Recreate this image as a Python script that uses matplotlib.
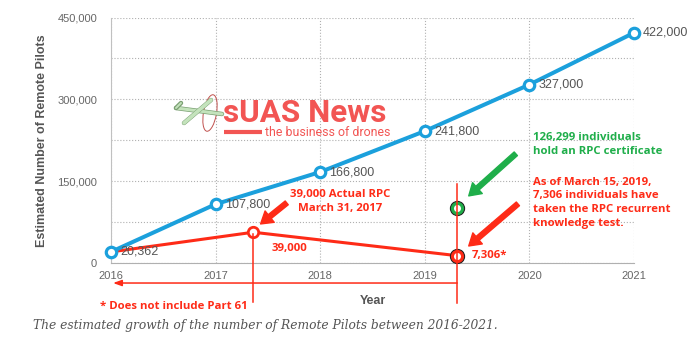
import numpy as np
from matplotlib import pyplot as plt
from matplotlib.patches import Ellipse
import matplotlib.patheffects as pe

# estimated remote pilots (blue line)
years = [2016, 2017, 2018, 2019, 2020, 2021]
pilots = [20362, 107800, 166800, 241800, 327000, 422000]
pilot_labels = ['20,362', '107,800', '166,800', '241,800', '327,000', '422,000']

# actual RPC counts (red line), positions as drawn in the picture
rpc_x = [2016, 2017.36, 2019.31]
rpc_y = [20362, 56400, 13400]
cert_x = 2019.31
cert_y = 101600

y_ticks = [0, 75000, 150000, 225000, 300000, 375000, 450000]
y_tick_labels = ['0', '', '150,000', '', '300,000', '', '450,000']

blue = '#1ba0dc'
red = '#fe2b17'
green = '#1fae4a'
grey = '#666666'

fig = plt.figure(figsize=(6.96, 3.49), dpi=100)
ax = fig.add_axes([111 / 696, 1 - 263 / 349, 523 / 696, 245.5 / 349])

ax.set_xlim(2016, 2021)
ax.set_ylim(0, 450000)
ax.set_xticks(years)
ax.set_xticklabels([str(y) for y in years])
ax.set_yticks(y_ticks)
ax.set_yticklabels(y_tick_labels)
ax.tick_params(length=0, labelsize=8, labelcolor=grey)
ax.tick_params(axis='y', pad=10)
ax.tick_params(axis='x', pad=6)
for lab in ax.get_xticklabels() + ax.get_yticklabels():
    lab.set_family('Liberation Sans')
ax.grid(True, linestyle=':', color='#b0b0b0', linewidth=0.8)
ax.spines['top'].set_visible(False)
ax.spines['right'].set_visible(False)
ax.spines['left'].set_color('#c0c0c0')
ax.spines['bottom'].set_color('#b0b0b0')

ax.set_xlabel('Year', family='Liberation Sans', fontweight='bold',
              fontsize=9, color='#555555', labelpad=10)
ax.set_ylabel('Estimated Number of Remote Pilots', family='Liberation Sans',
              fontweight='bold', fontsize=9, color='#555555', labelpad=7)

# red actual line
ax.plot(rpc_x, rpc_y, color=red, lw=2.2, zorder=3, clip_on=False)
ax.plot(rpc_x[1], rpc_y[1], 'o', ms=7.5, mfc='white', mec=red, mew=2, zorder=4)
ax.plot(rpc_x[2], rpc_y[2], 'o', ms=10, mfc='#222222', mec='#222222', mew=1, zorder=4)
ax.plot(rpc_x[2], rpc_y[2], 'o', ms=7.3, mfc='white', mec=red, mew=2.2, zorder=4)
ax.plot(cert_x, cert_y, 'o', ms=10, mfc='#222222', mec='#222222', mew=1, zorder=4)
ax.plot(cert_x, cert_y, 'o', ms=7.3, mfc='white', mec=green, mew=2.2, zorder=4)

# blue estimate line
ax.plot(years, pilots, color=blue, lw=2.9, zorder=5, clip_on=False)
ax.plot(years, pilots, 'o', ms=7.5, mfc='white', mec=blue, mew=2.3,
        zorder=6, clip_on=False)
for x, y, t in zip(years, pilots, pilot_labels):
    ax.annotate(t, (x, y), xytext=(6.5, 0), textcoords='offset points',
                va='center', ha='left', fontsize=9, color='#555555',
                family='Liberation Sans', zorder=7)

# red guide lines below the axis
ax.plot([cert_x, cert_x], [145000, -73500], color=red, lw=1.1,
        zorder=8, clip_on=False)
ax.plot([rpc_x[1], rpc_x[1]], [rpc_y[1] - 4000, -71600], color=red, lw=1.1,
        zorder=8, clip_on=False)
ax.annotate('', xy=(2016.02, -36700), xytext=(cert_x, -36700),
            arrowprops=dict(arrowstyle='-|>,head_width=0.18,head_length=0.5',
                            color=red, lw=1.1, shrinkA=0, shrinkB=0),
            annotation_clip=False)

# arrows
arrow_style = 'simple,head_width=0.75,head_length=0.6,tail_width=0.25'
ax.annotate('', xy=(2017.43, 71600), xytext=(2017.68, 110200),
            arrowprops=dict(arrowstyle=arrow_style, color=red,
                            mutation_scale=14, shrinkA=0, shrinkB=0))
ax.annotate('', xy=(2019.42, 123000), xytext=(2019.87, 200200),
            arrowprops=dict(arrowstyle=arrow_style, color=green,
                            mutation_scale=14, shrinkA=0, shrinkB=0))
ax.annotate('', xy=(2019.42, 31200), xytext=(2019.89, 108400),
            arrowprops=dict(arrowstyle=arrow_style, color=red,
                            mutation_scale=14, shrinkA=0, shrinkB=0))

# annotation texts
bold = dict(family='Open Sans', fontweight='bold', fontsize=8.2)
ax.text(2018.19, 113000, '39,000 Actual RPC\nMarch 31, 2017', color=red,
        ha='center', va='center', linespacing=1.35, **bold)
ax.text(2017.71, 25700, '39,000', color=red, ha='center', va='center', **bold)
ax.text(2019.45, 12900, '7,306*', color=red, ha='left', va='center', **bold)
ax.text(2020.03, 216700, '126,299 individuals\nhold an RPC certificate',
        color=green, ha='left', va='center', linespacing=1.35, **bold)
ax.text(2020.03, 110200, 'As of March 15, 2019,\n7,306 individuals have\n'
        'taken the RPC recurrent\nknowledge test.',
        color=red, ha='left', va='center', linespacing=1.35, **bold)
ax.text(2016.60, -79000, '* Does not include Part 61', color=red,
        ha='center', va='center', **bold)

# sUAS News logo
logo_red = '#f25553'
fig.text(223 / 696, 1 - 122 / 349, 'sUAS News', family='Roboto',
         fontweight='bold', fontsize=22.6, color=logo_red, va='baseline')
fig.text(265 / 696, 1 - 136 / 349, 'the business of drones', family='Roboto',
         fontsize=8.9, color=logo_red, va='baseline')
lax = fig.add_axes([165 / 696, 1 - 140 / 349, 100 / 696, 50 / 349])
lax.set_xlim(165, 265)
lax.set_ylim(140, 90)
lax.axis('off')
lax.plot([224, 262], [132, 132], color=logo_red, lw=3, solid_capstyle='butt')
plane = [pe.Stroke(linewidth=3.2, foreground='#7a9f72'), pe.Normal()]
lax.plot([176, 222], [108, 114], color='#c4e3bc', lw=2.2,
         path_effects=plane, solid_capstyle='round')
lax.plot([211, 184], [100, 123], color='#c4e3bc', lw=2.6,
         path_effects=plane, solid_capstyle='round')
lax.plot([176, 181], [108, 103], color='#c4e3bc', lw=1.4,
         path_effects=plane, solid_capstyle='round')
lax.add_patch(Ellipse((210, 113), 13, 37, angle=10, fill=False,
                      ec='#c0504d', lw=0.7))

# caption
fig.text(33 / 696, 1 - 325 / 349,
         'The estimated growth of the number of Remote Pilots between 2016-2021.',
         family='DejaVu Serif', style='italic', fontsize=8.8, color='#555555',
         va='center', ha='left')

fig.savefig('out.png', dpi=100)
